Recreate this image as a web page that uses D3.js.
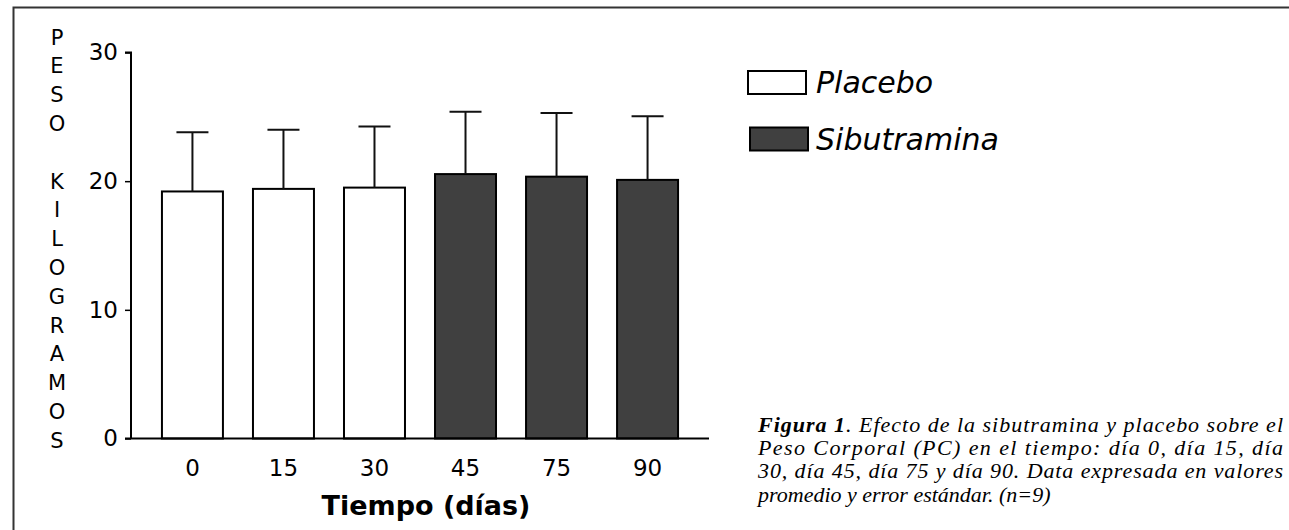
<!DOCTYPE html>
<html>
<head>
<meta charset="utf-8">
<script src="https://cdnjs.cloudflare.com/ajax/libs/d3/7.8.5/d3.min.js"></script>
<style>
  body { margin: 0; background: #fff; overflow: hidden; }
  svg { display: block; }
  .axis text { font-family: "DejaVu Sans", Verdana, sans-serif; font-size: 23px; fill: #000; }
</style>
</head>
<body>
<svg id="chart"></svg>
<script>
// data
var dias = ["0", "15", "30", "45", "75", "90"];
var grupo = ["Placebo", "Placebo", "Placebo", "Sibutramina", "Sibutramina", "Sibutramina"];
var promedio = [19.2, 19.4, 19.5, 20.55, 20.35, 20.1];
var errorEst = [4.6, 4.6, 4.75, 4.85, 4.95, 4.95];
var yTicks = [0, 10, 20, 30];
var series = ["Placebo", "Sibutramina"];
var colores = ["#ffffff", "#404040"];
var yLetras = "PESO KILOGRAMOS";
var leyenda = [
  ["Figura 1", ". Efecto de la sibutramina y placebo sobre el"],
  ["", "Peso Corporal (PC) en el tiempo: día 0, día 15, día"],
  ["", "30, día 45, día 75 y día 90. Data expresada en valores"],
  ["", "promedio y error estándar. (n=9)"]
];

var w = 1289;
var h = 530;

var svg = d3.select("#chart")
  .attr("width", w)
  .attr("height", h);

// frame (left + top)
svg.append("path")
  .attr("d", "M13.5," + h + "V7.5H" + (w + 5))
  .attr("fill", "none")
  .attr("stroke", "#333")
  .attr("stroke-width", 2);

var yScale = d3.scaleLinear()
  .domain([0, 30])
  .range([438.5, 52.5]);

var xScale = d3.scaleBand()
  .domain(dias)
  .range([131, 709])
  .paddingInner(0.33)
  .paddingOuter(0.34);

var color = d3.scaleOrdinal().domain(series).range(colores);

// bars
svg.selectAll("rect.bar")
  .data(dias)
  .enter()
  .append("rect")
  .attr("class", "bar")
  .attr("x", function(d) { return xScale(d); })
  .attr("y", function(d, i) { return yScale(promedio[i]); })
  .attr("width", xScale.bandwidth())
  .attr("height", function(d, i) { return yScale(0) - yScale(promedio[i]); })
  .attr("fill", function(d, i) { return color(grupo[i]); })
  .attr("stroke", "#000")
  .attr("stroke-width", 2);

// error bars (upper only)
var cap = 16;
dias.forEach(function(d, i) {
  var cx = xScale(d) + xScale.bandwidth() / 2;
  var top = yScale(promedio[i] + errorEst[i]);
  svg.append("line")
    .attr("x1", cx).attr("x2", cx)
    .attr("y1", yScale(promedio[i])).attr("y2", top)
    .attr("stroke", "#111").attr("stroke-width", 2);
  svg.append("line")
    .attr("x1", cx - cap).attr("x2", cx + cap)
    .attr("y1", top).attr("y2", top)
    .attr("stroke", "#111").attr("stroke-width", 2);
});

// axes
var yAxis = d3.axisLeft(yScale).tickValues(yTicks).tickSize(6).tickPadding(7);
var gy = svg.append("g")
  .attr("class", "axis")
  .attr("transform", "translate(131,0)")
  .call(yAxis);
gy.select(".domain").attr("d", "M-6," + yScale(30) + "H0V" + yScale(0)).attr("stroke-width", 2);
gy.selectAll(".tick line").attr("stroke-width", 1.5);

var xAxis = d3.axisBottom(xScale).tickSize(0).tickPadding(21);
var gx = svg.append("g")
  .attr("class", "axis")
  .attr("transform", "translate(0," + yScale(0) + ")")
  .call(xAxis);
gx.select(".domain").attr("d", "M125,0H709").attr("stroke-width", 2);

// x title
svg.append("text")
  .text("Tiempo (días)")
  .attr("x", 426)
  .attr("y", 515)
  .attr("text-anchor", "middle")
  .attr("font-family", "DejaVu Sans, Verdana, sans-serif")
  .attr("font-weight", "bold")
  .attr("font-size", "27px");

// y title, stacked letters
svg.selectAll("text.ylab")
  .data(yLetras.split(""))
  .enter()
  .append("text")
  .attr("class", "ylab")
  .text(function(d) { return d; })
  .attr("x", 57)
  .attr("y", function(d, i) { return 37 + i * 28.8; })
  .attr("dy", "0.36em")
  .attr("text-anchor", "middle")
  .attr("font-family", "DejaVu Sans, Verdana, sans-serif")
  .attr("font-size", "21px");

// legend
var leg = svg.selectAll("g.leg")
  .data(series)
  .enter()
  .append("g")
  .attr("class", "leg")
  .attr("transform", function(d, i) { return "translate(" + (748 + i * 2) + "," + (71 + i * 56.5) + ")"; });
leg.append("rect")
  .attr("width", 58)
  .attr("height", 23)
  .attr("fill", function(d) { return color(d); })
  .attr("stroke", "#000")
  .attr("stroke-width", 2);
leg.append("text")
  .text(function(d) { return d; })
  .attr("x", function(d, i) { return 68 - i * 2; })
  .attr("y", 22)
  .attr("font-family", "DejaVu Sans, Verdana, sans-serif")
  .attr("font-style", "italic")
  .attr("font-size", "30px");

// caption, justified lines
var cap_g = svg.append("g")
  .attr("font-family", "Liberation Serif, Times New Roman, serif")
  .attr("font-style", "italic")
  .attr("font-size", "22px");
leyenda.forEach(function(l, i) {
  var t = cap_g.append("text")
    .attr("x", 758)
    .attr("y", 432 + i * 23.2);
  if (i < 3) {
    t.attr("textLength", 525).attr("lengthAdjust", "spacing");
  }
  if (l[0]) {
    t.append("tspan").attr("font-weight", "bold").text(l[0]);
  }
  t.append("tspan").text(l[1]);
});
</script>
</body>
</html>
